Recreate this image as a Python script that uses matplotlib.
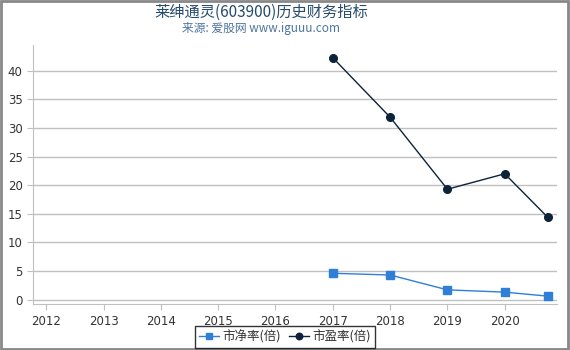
import matplotlib
matplotlib.use('Agg')
import matplotlib.pyplot as plt
import matplotlib.patches as patches

plt.rcParams['font.family'] = ['DejaVu Sans', 'Noto Sans CJK SC']

# data
years_tick = [2012, 2013, 2014, 2015, 2016, 2017, 2018, 2019, 2020]
x_points = [2017, 2018, 2019, 2020, 2020.75]
pb = [4.6, 4.3, 1.7, 1.3, 0.6]
pe = [42.3, 31.9, 19.3, 22.0, 14.4]
y_ticks = [0, 5, 10, 15, 20, 25, 30, 35, 40]

title = '莱绅通灵(603900)历史财务指标'
subtitle = '来源: 爱股网 www.iguuu.com'
cjk = ['Noto Sans CJK SC', 'DejaVu Sans']

fig = plt.figure(figsize=(5.7, 3.5), dpi=100)
ax = fig.add_axes([0.058, 0.131, 0.919, 0.740])

ax.plot(x_points, pb, color='#2f7ed8', marker='s', markersize=5.5, lw=1, label='市净率(倍)', zorder=3)
ax.plot(x_points, pe, color='#0d233a', marker='o', markersize=5.5, lw=1, label='市盈率(倍)', zorder=3)

ax.set_xlim(2011.77, 2020.91)
ax.set_ylim(-0.8, 44.5)
ax.set_xticks(years_tick)
ax.set_yticks(y_ticks)
ax.grid(axis='y', color='#c0c0c0', lw=1)
ax.set_axisbelow(True)

for s in ['top', 'right']:
    ax.spines[s].set_visible(False)
for s in ['left', 'bottom']:
    ax.spines[s].set_color('#c0c0c0')
ax.tick_params(axis='both', colors='#c0c0c0', labelcolor='#333333', labelsize=8.5, length=4)

fig.text(0.458, 0.965, title, ha='center', va='center', fontsize=11, color='#274b6d', family=cjk)
fig.text(0.458, 0.918, subtitle, ha='center', va='center', fontsize=8.5, color='#4d759e', family=cjk)

leg = fig.legend(loc='center', bbox_to_anchor=(0.5, 0.037), bbox_transform=fig.transFigure,
                 ncol=2, frameon=True, fancybox=False,
                 prop={'family': cjk, 'size': 9}, handlelength=1.6, handletextpad=0.3,
                 columnspacing=0.6, borderpad=0.35, markerscale=0.85)
leg.get_frame().set_edgecolor('black')
leg.get_frame().set_linewidth(1)
for t in leg.get_texts():
    t.set_color('#333333')

# grey frame around the whole picture
fig.patches.append(patches.Rectangle((0.0015, 0.004), 0.995, 0.993, transform=fig.transFigure,
                                     fill=False, edgecolor='#888888', lw=2))

fig.savefig('out.png', dpi=100)
